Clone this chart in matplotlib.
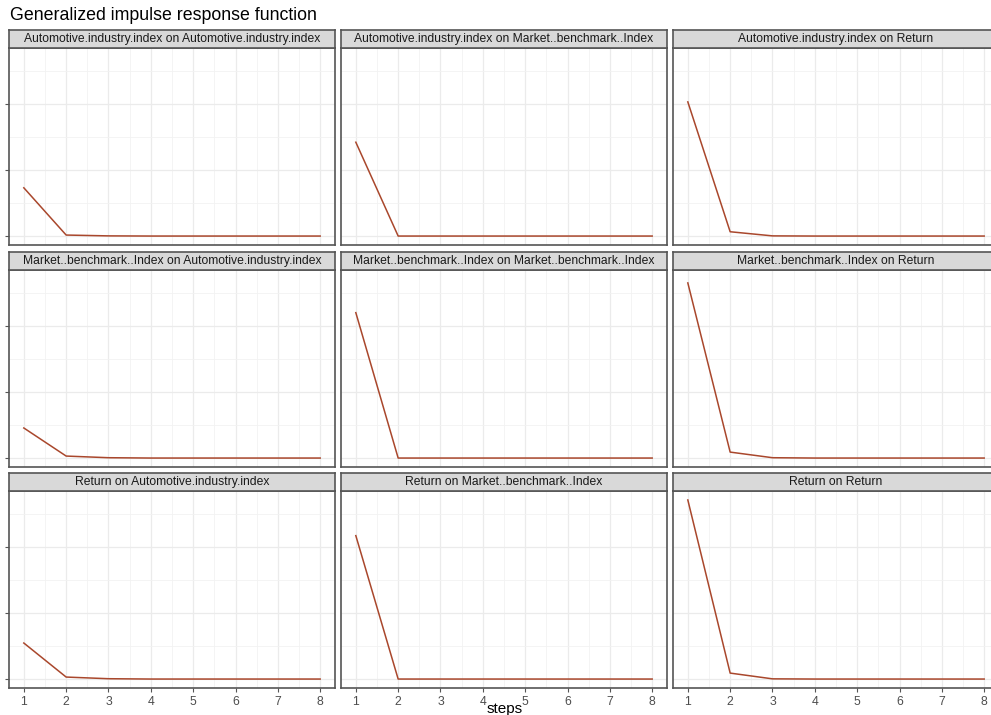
import matplotlib
matplotlib.use("Agg")
import matplotlib.pyplot as plt
import numpy as np

plt.rcParams['font.family'] = ['Liberation Sans', 'DejaVu Sans']

steps = [1, 2, 3, 4, 5, 6, 7, 8]
impulses = ["Automotive.industry.index", "Market..benchmark..Index", "Return"]
responses = ["Automotive.industry.index", "Market..benchmark..Index", "Return"]

# responses (rows: impulse, cols: response)
auto_on_auto = [0.0146, 0.0003, 0.00005, 0, 0, 0, 0, 0]
auto_on_market = [0.0284, 0.0, 0.0, 0, 0, 0, 0, 0]
auto_on_return = [0.0406, 0.0013, 0.00005, 0, 0, 0, 0, 0]
market_on_auto = [0.0091, 0.0006, 0.0001, 0, 0, 0, 0, 0]
market_on_market = [0.0440, 0.0, 0.0, 0, 0, 0, 0, 0]
market_on_return = [0.0530, 0.0018, 0.0001, 0, 0, 0, 0, 0]
return_on_auto = [0.0109, 0.0006, 0.0001, 0, 0, 0, 0, 0]
return_on_market = [0.0434, 0.0, 0.0, 0, 0, 0, 0, 0]
return_on_return = [0.0542, 0.0018, 0.00006, 0, 0, 0, 0, 0]

grid_values = [
    [auto_on_auto, auto_on_market, auto_on_return],
    [market_on_auto, market_on_market, market_on_return],
    [return_on_auto, return_on_market, return_on_return],
]
y_ticks = [0.0, 0.02, 0.04]
y_minor = [0.01, 0.03, 0.05]

W, H = 991, 715
fig = plt.figure(figsize=(W / 100, H / 100), dpi=100)

col_left = [9, 341, 673]
col_w = 326
row_strip_top = [30, 252, 473]
strip_h = 18
panel_h = 197

all_vals = np.concatenate([np.array(v) for r in grid_values for v in r])
ymin, ymax = all_vals.min(), all_vals.max()
rng = ymax - ymin
ylim = (ymin - 0.05 * rng, ymax + 0.05 * rng)
xlim = (1 - 0.35, 8 + 0.35)

line_color = "#A9472C"
border = "#555555"

for r in range(3):
    for c in range(3):
        top = row_strip_top[r] + strip_h
        ax = fig.add_axes([col_left[c] / W, 1 - (top + panel_h) / H, col_w / W, panel_h / H])
        ax.set_facecolor("white")
        ax.set_xlim(*xlim)
        ax.set_ylim(*ylim)
        for x in steps:
            ax.axvline(x, color="#EBEBEB", lw=0.9, zorder=1)
        for x in np.arange(1.5, 8, 1.0):
            ax.axvline(x, color="#F2F2F2", lw=0.6, zorder=1)
        for y in y_ticks:
            ax.axhline(y, color="#EBEBEB", lw=0.9, zorder=1)
        for y in y_minor:
            ax.axhline(y, color="#F2F2F2", lw=0.6, zorder=1)
        ax.plot(steps, grid_values[r][c], color=line_color, lw=1.1, zorder=3)
        for s in ax.spines.values():
            s.set_color(border)
            s.set_linewidth(1.2)
        ax.set_xticks(steps)
        ax.set_yticks(y_ticks)
        ax.tick_params(axis='both', colors=border, length=3, width=0.8,
                       labelcolor="#4D4D4D", labelsize=8.8)
        ax.tick_params(axis='x', pad=3)
        if r < 2:
            ax.tick_params(axis='x', bottom=False, labelbottom=False)
        if c > 0:
            ax.tick_params(axis='y', left=False, labelleft=False)
        else:
            ax.set_yticklabels([f"{v:.2f}" for v in y_ticks], color="#7FB0D8")
        # strip
        sax = fig.add_axes([col_left[c] / W, 1 - top / H, col_w / W, strip_h / H])
        sax.set_facecolor("#D9D9D9")
        sax.set_xticks([])
        sax.set_yticks([])
        for s in sax.spines.values():
            s.set_color(border)
            s.set_linewidth(1.2)
        sax.text(0.5, 0.5, f"{impulses[r]} on {responses[c]}", ha="center", va="center",
                 fontsize=8.7, color="#1A1A1A", transform=sax.transAxes)

fig.text(10 / W, 1 - 16 / H, "Generalized impulse response function", ha="left", va="center",
         fontsize=12.8, color="black")
fig.text(505 / W, 1 - 709 / H, "steps", ha="center", va="center", fontsize=11, color="black")

fig.savefig("out.png", dpi=100)
